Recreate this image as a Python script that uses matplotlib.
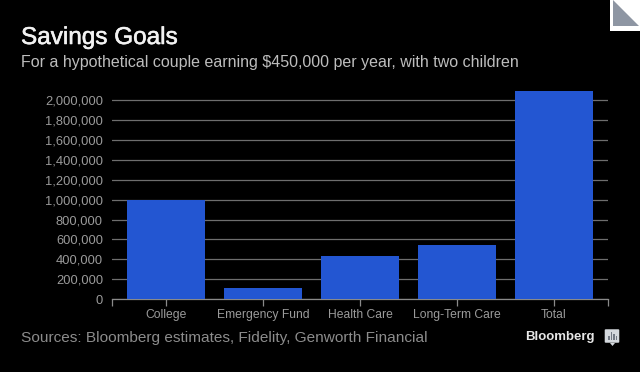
import matplotlib
matplotlib.use('Agg')
import matplotlib.pyplot as plt
import matplotlib.patheffects as pe
from matplotlib.patches import Polygon, Rectangle, FancyBboxPatch

categories = ['College', 'Emergency Fund', 'Health Care', 'Long-Term Care', 'Total']
values = [1000000, 115000, 435000, 545000, 2095000]
yticks = [0, 200000, 400000, 600000, 800000, 1000000, 1200000, 1400000, 1600000, 1800000, 2000000]

W, H = 640, 372
plt.rcParams['font.family'] = ['Liberation Sans', 'DejaVu Sans']

fig = plt.figure(figsize=(W / 100, H / 100), dpi=100, facecolor='black')


def px(x, y):
    # pixel position from top left to figure fraction
    return x / W, 1 - y / H


ax = fig.add_axes([112 / W, 1 - 299 / H, 496 / W, 211 / H], facecolor='black')
ax.bar(range(5), values, width=78 / 97, color='#2356d2', zorder=3)
ax.set_xlim(-54 / 97, 4 + 54 / 97)
ax.set_ylim(0, 211 / 99.25 * 1000000)

ax.set_yticks(yticks)
ax.set_yticklabels([f'{v:,}' for v in yticks], color='#9a9a9a', fontsize=9.3)
ax.yaxis.grid(True, color='#6e6e6e', linewidth=0.9, zorder=1)
ax.set_axisbelow(True)
ax.tick_params(axis='y', length=0, pad=6.5)

ax.set_xticks(range(5))
ax.set_xticklabels(categories, color='#9a9a9a', fontsize=8.7)
ax.set_xticks([-54 / 97, 4 + 54 / 97], minor=True)
ax.tick_params(axis='x', which='both', length=5, width=0.9, color='#8a8a8a', pad=2)

for side in ['top', 'left', 'right']:
    ax.spines[side].set_visible(False)
ax.spines['bottom'].set_color('#8a8a8a')
ax.spines['bottom'].set_linewidth(0.9)

x, y = px(21, 38)
t = fig.text(x, y, 'Savings Goals', color='#f2f2f2', fontsize=17.5, va='center', ha='left')
t.set_path_effects([pe.withStroke(linewidth=0.4, foreground='#f2f2f2')])
x, y = px(21, 62)
fig.text(x, y, 'For a hypothetical couple earning $450,000 per year, with two children',
         color='#bdbdbd', fontsize=11.5, va='center', ha='left')
x, y = px(21, 338)
fig.text(x, y, 'Sources: Bloomberg estimates, Fidelity, Genworth Financial',
         color='#8c8c8c', fontsize=11.05, va='center', ha='left')
x, y = px(595, 337)
fig.text(x, y, 'Bloomberg', color='#e6e6e6', fontsize=9.5, fontweight='bold', va='center', ha='right')

# folded corner
fig.add_artist(Rectangle(px(610, 31), 30 / W, 31 / H, transform=fig.transFigure, color='white', lw=0))
fig.add_artist(Polygon([px(613, 0), px(613, 26), px(639, 26)], transform=fig.transFigure,
                       color='#8e96a3', lw=0))

# logo icon
fig.add_artist(FancyBboxPatch(px(606, 342), 12 / W, 12 / H, boxstyle='round,pad=0.002',
                              transform=fig.transFigure, color='#d5d9de', lw=0))
fig.add_artist(Polygon([px(610, 343), px(615, 343), px(612.5, 346)], transform=fig.transFigure,
                       color='#d5d9de', lw=0))
for bx, bh in [(608, 4), (610.5, 8), (613, 6), (615.5, 4)]:
    fig.add_artist(Rectangle(px(bx, 340), 1.6 / W, bh / H, transform=fig.transFigure,
                             color='#737a85', lw=0))

fig.savefig('out.png', dpi=100, facecolor='black')
plt.close()
